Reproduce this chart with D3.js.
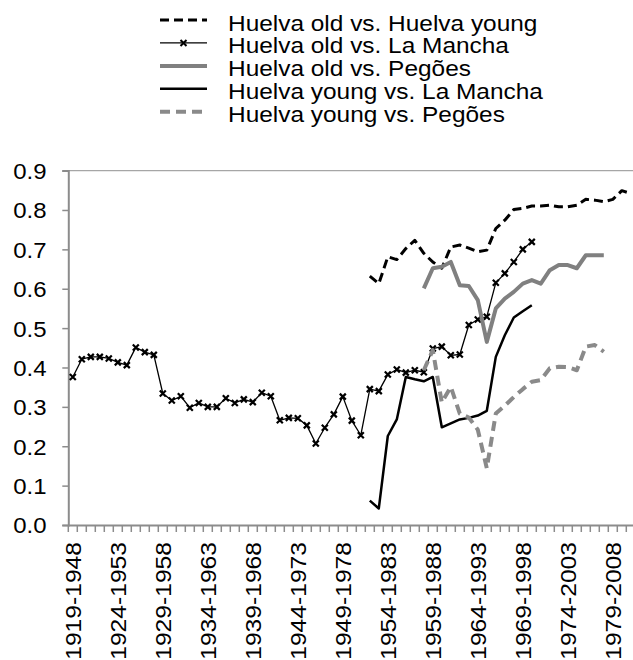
<!DOCTYPE html>
<html><head><meta charset="utf-8">
<script src="https://cdn.jsdelivr.net/npm/d3@7"></script>
<style>body{margin:0;background:#fff}svg{display:block}text{font-family:"Liberation Sans",Arial,sans-serif;fill:#000}</style>
</head><body>
<script>
const categories = ["1919-1948","1920-1949","1921-1950","1922-1951","1923-1952","1924-1953","1925-1954","1926-1955","1927-1956","1928-1957",
"1929-1958","1930-1959","1931-1960","1932-1961","1933-1962","1934-1963","1935-1964","1936-1965","1937-1966","1938-1967",
"1939-1968","1940-1969","1941-1970","1942-1971","1943-1972","1944-1973","1945-1974","1946-1975","1947-1976","1948-1977",
"1949-1978","1950-1979","1951-1980","1952-1981","1953-1982","1954-1983","1955-1984","1956-1985","1957-1986","1958-1987",
"1959-1988","1960-1989","1961-1990","1962-1991","1963-1992","1964-1993","1965-1994","1966-1995","1967-1996","1968-1997",
"1969-1998","1970-1999","1971-2000","1972-2001","1973-2002","1974-2003","1975-2004","1976-2005","1977-2006","1978-2007",
"1979-2008","1980-2009","1981-2010"];
const tickLabels = ["1919-1948","1924-1953","1929-1958","1934-1963","1939-1968","1944-1973","1949-1978","1954-1983","1959-1988","1964-1993","1969-1998","1974-2003","1979-2008"];
const yTicks = [0,0.1,0.2,0.3,0.4,0.5,0.6,0.7,0.8,0.9];
const N = null;
const oldVsYoung = [N,N,N,N,N,N,N,N,N,N, N,N,N,N,N,N,N,N,N,N, N,N,N,N,N,N,N,N,N,N, N,N,N,
 0.632,0.613,0.681,0.674,0.702,0.723,0.690,0.668,0.652,0.706,0.711,0.703,0.694,0.698,0.753,0.774,0.801,0.804,0.810,0.810,0.812,0.808,0.808,0.812,0.827,0.825,0.821,0.827,0.849,0.842];
const oldVsMancha = [0.376,0.421,0.427,0.427,0.423,0.413,0.406,0.451,0.439,0.432,
 0.334,0.316,0.327,0.298,0.310,0.300,0.300,0.322,0.310,0.319,
 0.312,0.336,0.327,0.266,0.272,0.271,0.253,0.207,0.247,0.281,
 0.326,0.265,0.228,0.345,0.340,0.382,0.395,0.387,0.393,0.388,
 0.448,0.453,0.431,0.433,0.508,0.522,0.529,0.615,0.639,0.668,
 0.700,0.719, N,N,N,N,N,N,N,N,N,N,N];
const oldVsPegoes = [N,N,N,N,N,N,N,N,N,N, N,N,N,N,N,N,N,N,N,N, N,N,N,N,N,N,N,N,N,N, N,N,N,N,N,N,N,N,N,
 0.601,0.652,0.656,0.668,0.609,0.607,0.571,0.465,0.550,0.575,0.592,0.613,0.622,0.613,0.647,0.660,0.660,0.652,0.685,0.685,0.685, N,N,N];
const youngVsMancha = [N,N,N,N,N,N,N,N,N,N, N,N,N,N,N,N,N,N,N,N, N,N,N,N,N,N,N,N,N,N, N,N,N,
 0.062,0.042,0.226,0.268,0.376,0.370,0.365,0.376,0.248,0.258,0.268,0.272,0.278,0.290,0.427,0.482,0.527,0.543,0.558, N,N,N,N,N,N,N,N,N,N,N];
const youngVsPegoes = [N,N,N,N,N,N,N,N,N,N, N,N,N,N,N,N,N,N,N,N, N,N,N,N,N,N,N,N,N,N, N,N,N,N,N,N,N,N,N,
 0.393,0.444,0.311,0.351,0.283,0.273,0.242,0.144,0.283,0.303,0.325,0.345,0.364,0.368,0.398,0.402,0.401,0.393,0.453,0.457,0.440, N,N,N];
const seriesNames = ["Huelva old vs. Huelva young","Huelva old vs. La Mancha","Huelva old vs. Pegões","Huelva young vs. La Mancha","Huelva young vs. Pegões"];

const series = [
 {name:seriesNames[0], values:oldVsYoung, color:"#000", width:3, dash:"9,5", marker:false},
 {name:seriesNames[1], values:oldVsMancha, color:"#000", width:1.3, dash:null, marker:true},
 {name:seriesNames[2], values:oldVsPegoes, color:"#808080", width:4, dash:null, marker:false},
 {name:seriesNames[3], values:youngVsMancha, color:"#000", width:2.5, dash:null, marker:false},
 {name:seriesNames[4], values:youngVsPegoes, color:"#8a8a8a", width:4, dash:"10,6", marker:false}
];

const W=633,H=660;
const FS=22;
const svg=d3.select("body").append("svg").attr("width",W).attr("height",H);
const x0=68.3, step=9;
const x=d3.scaleBand().domain(categories).range([x0,x0+step*categories.length]).padding(0);
const y=d3.scaleLinear().domain([0,0.9]).range([525,170.6]);
const cx=c=>x(c)+x.bandwidth()/2;

// top line at 0.9
svg.append("line").attr("x1",x0).attr("x2",W).attr("y1",y(0.9)).attr("y2",y(0.9)).attr("stroke","#a6a6a6").attr("stroke-width",1.3);

// y axis
const yAxis=svg.append("g").attr("transform",`translate(${x0},0)`)
 .call(d3.axisLeft(y).tickValues(yTicks).tickFormat(d3.format(".1f")).tickSize(6));
yAxis.select(".domain").attr("stroke","#8c8c8c").attr("stroke-width",2);
yAxis.selectAll(".tick line").attr("stroke","#8c8c8c").attr("stroke-width",1.5);
yAxis.selectAll(".tick text")
 .attr("x",0).attr("dy","0.36em").attr("text-anchor","end")
 .attr("transform",`translate(${46.5-x0},0) scale(1.09,1)`)
 .style("font-size",FS+"px").attr("fill","#000");

// x axis
const xAxis=svg.append("g").attr("transform",`translate(0,${y(0)})`)
 .call(d3.axisBottom(x).tickValues(tickLabels).tickSize(0).tickSizeOuter(0));
xAxis.select(".domain").attr("stroke","#8c8c8c").attr("stroke-width",2);
xAxis.selectAll(".tick line").remove();
xAxis.selectAll(".tick text").style("font-size",FS+"px").attr("text-anchor","end")
 .attr("x",0).attr("y",0).attr("dy","0.36em")
 .attr("transform",`translate(0,${542-y(0)}) rotate(-90) scale(1.12,1)`).attr("fill","#000");
// boundary ticks
const bounds=categories.map(c=>x(c)).concat([x0+step*categories.length]);
svg.append("g").selectAll("line").data(bounds).join("line")
 .attr("x1",d=>d).attr("x2",d=>d).attr("y1",y(0)).attr("y2",y(0)+7)
 .attr("stroke","#8c8c8c").attr("stroke-width",1.5);

// lines
const line=d3.line().defined(d=>d.v!=null).x(d=>cx(d.c)).y(d=>y(d.v));
series.forEach(s=>{
 const data=categories.map((c,i)=>({c,v:s.values[i]}));
 svg.append("path").datum(data).attr("d",line).attr("fill","none")
  .attr("stroke",s.color).attr("stroke-width",s.width)
  .attr("stroke-dasharray",s.dash).attr("stroke-linejoin","round");
 if(s.marker){
  svg.append("g").selectAll("path").data(data.filter(d=>d.v!=null)).join("path")
   .attr("transform",d=>`translate(${cx(d.c)},${y(d.v)})`)
   .attr("d","M-3,-3L3,3M-3,3L3,-3").attr("stroke","#000").attr("stroke-width",2.2);
 }
});

// legend
const lg=svg.append("g");
series.forEach((s,i)=>{
 const base=30.5+i*22.95;
 const ly=base-10.5;
 lg.append("line").attr("x1",160).attr("x2",207).attr("y1",ly).attr("y2",ly)
  .attr("stroke",s.color).attr("stroke-width",s.width).attr("stroke-dasharray",s.dash);
 if(s.marker) lg.append("path").attr("transform",`translate(183.5,${ly})`).attr("d","M-3,-3L3,3M-3,3L3,-3").attr("stroke","#000").attr("stroke-width",2);
 lg.append("text").attr("x",0).attr("y",0).attr("transform",`translate(228,${base}) scale(1.11,1)`)
  .style("font-size",FS+"px").text(s.name);
});
</script>
</body></html>
